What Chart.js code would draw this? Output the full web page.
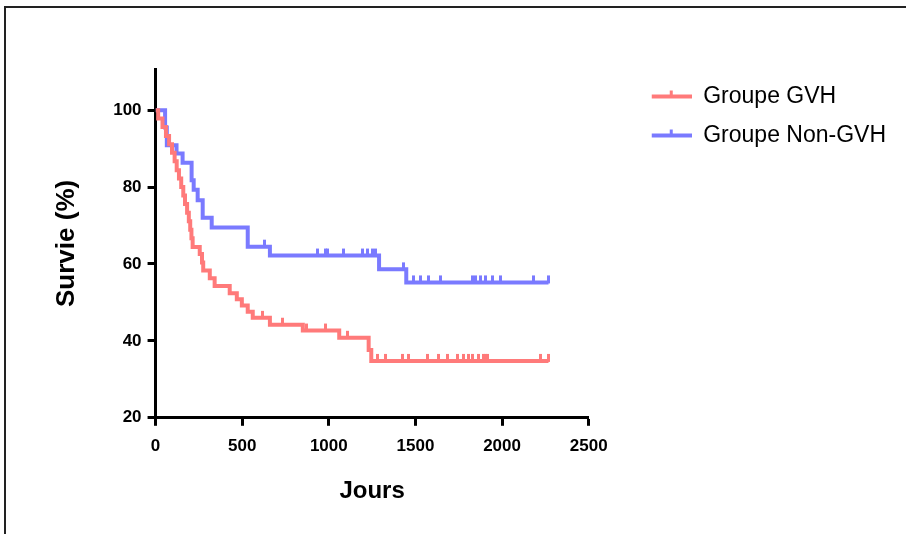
<!DOCTYPE html>
<html>
<head>
<meta charset="utf-8">
<script src="https://cdn.jsdelivr.net/npm/chart.js@4.4.0/dist/chart.umd.min.js"></script>
<style>
  html, body { margin: 0; padding: 0; background: #fff; }
  #frame { position: absolute; left: 4px; top: 6px; width: 900px; height: 526px; border-top: 2px solid #222; border-left: 2px solid #222; }
  #chart { display: block; }
</style>
</head>
<body>
<div id="frame"><canvas id="chart" width="900" height="526"></canvas></div>
<script>
// Courbes de survie (Kaplan-Meier)
const xTicks = [0, 500, 1000, 1500, 2000, 2500];
const yTicks = [20, 40, 60, 80, 100];

// Groupe GVH : jours des décès et survie (%) après chaque marche
const gvhDays = [0, 15, 40, 60, 78, 95, 110, 122, 135, 148, 160, 170, 182, 192, 200, 207, 214, 255, 268, 275, 313, 341, 428, 469, 498, 532, 561, 660, 850, 1060, 1230, 1245];
const gvhSurvie = [100, 97.8, 95.6, 93.3, 91.1, 88.9, 86.7, 84.4, 82.2, 80, 77.8, 75.6, 73.3, 71.1, 68.9, 66.7, 64.4, 62.6, 60.4, 58.3, 56.3, 54.3, 52.4, 50.8, 49.2, 47.6, 46, 44.2, 42.7, 40.8, 37.6, 34.8];
// patients censurés (petits traits verticaux)
const gvhCensures = [619, 735, 874, 978, 1105, 1280, 1330, 1424, 1458, 1568, 1632, 1684, 1742, 1777, 1806, 1829, 1863, 1892, 1904, 1916, 2222, 2268];

// Groupe Non-GVH
const nonGvhDays = [0, 55, 65, 121, 156, 208, 220, 243, 272, 324, 532, 660, 1290, 1447];
const nonGvhSurvie = [100, 95.5, 90.9, 88.7, 86.3, 81.8, 79.3, 76.6, 72.0, 69.5, 64.5, 62.2, 58.6, 55.2];
const nonGvhCensures = [631, 932, 978, 995, 1082, 1192, 1221, 1250, 1267, 1430, 1487, 1528, 1574, 1644, 1829, 1846, 1875, 1904, 1944, 1991, 2182, 2268];

const red = 'rgb(255, 122, 122)';
const blue = 'rgb(122, 122, 255)';
const fontFamily = "'Liberation Sans', Arial, sans-serif";

// survie au jour t (valeur de la marche en cours)
function levelAt(days, survie, t) {
    let v = survie[0];
    for (let i = 0; i < days.length; i++) {
        if (days[i] <= t) v = survie[i];
    }
    return v;
}

function stepData(days, survie, censures) {
    const pts = days.map((d, i) => ({ x: d, y: survie[i] }));
    const end = Math.max(...censures);
    pts.push({ x: end, y: levelAt(days, survie, end) });
    return pts;
}

function censorData(days, survie, censures) {
    return censures.map(t => ({ x: t, y: levelAt(days, survie, t) }));
}

// petit trait vertical au-dessus de la courbe
function censorMark(color) {
    const c = document.createElement('canvas');
    c.width = 3;
    c.height = 16;
    const g = c.getContext('2d');
    g.fillStyle = color;
    g.fillRect(0, 1, 3, 8);
    return c;
}

// symbole de légende : ligne avec trait, décalée vers la droite
function legendMark(color) {
    const c = document.createElement('canvas');
    c.width = 87;
    c.height = 14;
    const g = c.getContext('2d');
    g.fillStyle = color;
    g.fillRect(47, 5, 40, 4);
    g.fillRect(65, 1, 3, 6);
    return c;
}

const ctx = document.getElementById('chart').getContext('2d');

new Chart(ctx, {
    type: 'line',
    data: {
        datasets: [
            {
                label: 'Groupe GVH',
                data: stepData(gvhDays, gvhSurvie, gvhCensures),
                borderColor: red,
                backgroundColor: red,
                borderWidth: 4,
                stepped: true,
                pointRadius: 0,
                pointStyle: legendMark(red),
                order: 1
            },
            {
                label: 'Groupe Non-GVH',
                data: stepData(nonGvhDays, nonGvhSurvie, nonGvhCensures),
                borderColor: blue,
                backgroundColor: blue,
                borderWidth: 4,
                stepped: true,
                pointRadius: 0,
                pointStyle: legendMark(blue),
                order: 1
            },
            {
                label: 'censures GVH',
                data: censorData(gvhDays, gvhSurvie, gvhCensures),
                showLine: false,
                pointStyle: censorMark(red),
                pointRadius: 3,
                order: 0
            },
            {
                label: 'censures Non-GVH',
                data: censorData(nonGvhDays, nonGvhSurvie, nonGvhCensures),
                showLine: false,
                pointStyle: censorMark(blue),
                pointRadius: 3,
                order: 0
            }
        ]
    },
    options: {
        responsive: false,
        animation: false,
        layout: { padding: { left: 45, top: 61, right: 10, bottom: 20 } },
        scales: {
            x: {
                type: 'linear',
                min: 0,
                max: 2500,
                afterBuildTicks: scale => { scale.ticks = xTicks.map(v => ({ value: v })); },
                grid: { drawOnChartArea: false, tickLength: 8, tickWidth: 3, tickColor: '#000' },
                border: { color: '#000', width: 3 },
                ticks: {
                    color: '#000',
                    padding: 10,
                    maxRotation: 0,
                    font: { family: fontFamily, size: 17, weight: 'bold' },
                    callback: v => String(v)
                },
                title: {
                    display: true,
                    text: 'Jours',
                    color: '#000',
                    font: { family: fontFamily, size: 24, weight: 'bold' },
                    padding: { top: 11, bottom: 8 }
                }
            },
            y: {
                type: 'linear',
                min: 20,
                max: 110.7,
                afterBuildTicks: scale => { scale.ticks = yTicks.map(v => ({ value: v })); },
                grid: { drawOnChartArea: false, tickLength: 8, tickWidth: 3, tickColor: '#000' },
                border: { color: '#000', width: 3 },
                ticks: {
                    color: '#000',
                    padding: 6,
                    font: { family: fontFamily, size: 17, weight: 'bold' },
                    callback: v => String(v)
                },
                title: {
                    display: true,
                    text: 'Survie (%)',
                    color: '#000',
                    font: { family: fontFamily, size: 26, weight: 'bold' },
                    padding: { top: 0, bottom: 25 }
                }
            }
        },
        plugins: {
            legend: {
                position: 'right',
                align: 'start',
                maxWidth: 310,
                labels: {
                    usePointStyle: true,
                    pointStyleWidth: 87,
                    padding: 16,
                    color: '#000',
                    font: { family: fontFamily, size: 23 },
                    filter: item => item.datasetIndex < 2
                }
            },
            tooltip: { enabled: false }
        }
    }
});
</script>
</body>
</html>
